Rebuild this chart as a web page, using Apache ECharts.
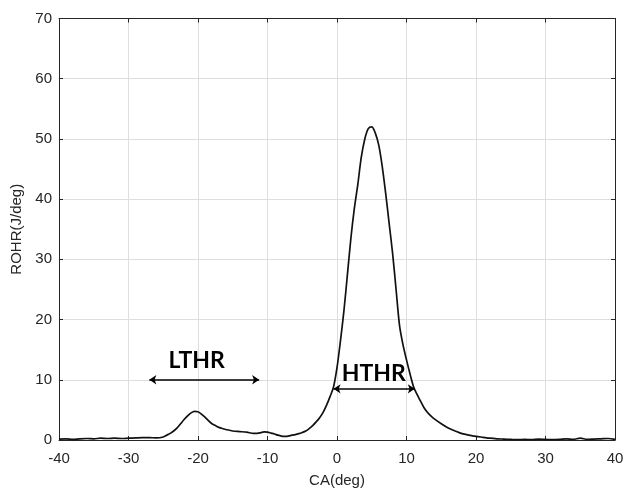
<!DOCTYPE html>
<html>
<head>
<meta charset="utf-8">
<script src="https://cdn.jsdelivr.net/npm/echarts@6/dist/echarts.min.js"></script>
<style>html,body{margin:0;padding:0;background:#fff;}#c{width:626px;height:489px;}</style>
</head>
<body>
<div id="c"></div>
<script>
// Crank angle (deg)
const ca = [-40,-39,-38,-37,-36,-35,-34,-33,-32,-31,-30,-29,-28,-27,-26,-25,-24.5,-24,-23.5,-23,-22.5,-22,-21.5,-21,-20.5,-20,-19.5,-19,-18.5,-18,-17.5,-17,-16.5,-16,-15,-14,-13,-12,-11.5,-11,-10.5,-10,-9.5,-9,-8.5,-8,-7.5,-7,-6.5,-6,-5.5,-5,-4.5,-4,-3.5,-3,-2.5,-2,-1.5,-1,-0.5,0,0.5,1,1.5,2,2.5,3,3.5,4,4.5,5,5.5,6,6.5,7,7.5,8,8.5,9,9.5,10,10.5,11,11.5,12,12.5,13,13.5,14,15,16,17,18,19,20,21,22,23,24,25,26,27,28,29,30,31,32,33,34,35,36,37,38,39,40];
// Rate of heat release (J/deg)
const rohr = [0.15,0.2,0.1,0.2,0.25,0.2,0.3,0.25,0.3,0.25,0.3,0.35,0.4,0.4,0.35,0.5,0.8,1.1,1.5,2.0,2.7,3.4,4.0,4.5,4.75,4.7,4.3,3.8,3.2,2.7,2.4,2.1,1.9,1.75,1.5,1.4,1.3,1.1,1.1,1.2,1.35,1.3,1.15,1.0,0.8,0.65,0.6,0.65,0.8,0.9,1.05,1.25,1.5,1.9,2.4,3.0,3.7,4.6,5.8,7.2,8.8,12,16.5,21.5,27.5,33.5,38.5,42.5,47,50,51.7,52,51,49,45.5,41,36,31,25,19,15.8,13.3,11,8.9,7.6,6.5,5.4,4.6,4.0,3.5,2.7,2.0,1.5,1.05,0.8,0.6,0.45,0.3,0.2,0.15,0.1,0.05,0.1,0.05,0.15,0.1,0.05,0.1,0.2,0.1,0.3,0.1,0.15,0.2,0.25,0.1];
// Axis ticks
const xTicks = [-40,-30,-20,-10,0,10,20,30,40];
const yTicks = [0,10,20,30,40,50,60,70];
// Annotations
const labels = ['LTHR','HTHR'];
const labelPos = [[-20.2,13.2],[5.3,11.1]];
const arrowLTHR = [[-27,10],[-11.2,10]];
const arrowHTHR = [[-0.5,8.5],[11.2,8.5]];

const chart = echarts.init(document.getElementById('c'));
const txt = '#262626';
const font = 'Liberation Sans, Arial, sans-serif';
const baseX = {
  type:'value', min:xTicks[0], max:xTicks[xTicks.length-1], interval:10,
  axisLine:{show:true,onZero:false,lineStyle:{color:txt,width:1}},
  axisTick:{show:true,inside:true,length:4,lineStyle:{color:txt}},
};
const baseY = {
  type:'value', min:yTicks[0], max:yTicks[yTicks.length-1], interval:10,
  axisLine:{show:true,onZero:false,lineStyle:{color:txt,width:1}},
  axisTick:{show:true,inside:true,length:4,lineStyle:{color:txt}},
};
chart.setOption({
  animation:false,
  backgroundColor:'#fff',
  grid:{left:59,right:11,top:18.5,bottom:49,containLabel:false,outerBoundsMode:'none'},
  xAxis:[
    Object.assign({}, baseX, {
      position:'bottom',
      name:'CA(deg)', nameLocation:'middle', nameGap:33,
      nameTextStyle:{color:txt,fontSize:15,fontFamily:font},
      axisLabel:{color:txt,fontSize:15,fontFamily:font,margin:11},
      splitLine:{show:true,lineStyle:{color:'#dedede',width:1}}
    }),
    Object.assign({}, baseX, {
      position:'top', axisLabel:{show:false}, splitLine:{show:false}
    })
  ],
  yAxis:[
    Object.assign({}, baseY, {
      position:'left',
      name:'ROHR(J/deg)', nameLocation:'middle', nameGap:31,
      nameTextStyle:{color:txt,fontSize:15,fontFamily:font},
      axisLabel:{color:txt,fontSize:15,fontFamily:font,margin:7},
      splitLine:{show:true,lineStyle:{color:'#dedede',width:1}}
    }),
    Object.assign({}, baseY, {
      position:'right', axisLabel:{show:false}, splitLine:{show:false}
    })
  ],
  series:[
    {
      type:'line', xAxisIndex:0, yAxisIndex:0,
      data: ca.map((x,i)=>[x,rohr[i]]),
      showSymbol:false, smooth:0.3,
      lineStyle:{color:'#111',width:1.7},
      markLine:{
        silent:true, symbol:['arrow','arrow'], symbolSize:[7,7],
        label:{show:false},
        lineStyle:{color:'#000',width:1.6,type:'solid'},
        data:[
          [{coord:arrowLTHR[0]},{coord:arrowLTHR[1]}],
          [{coord:arrowHTHR[0]},{coord:arrowHTHR[1]}]
        ]
      }
    },
    {
      type:'scatter', xAxisIndex:0, yAxisIndex:0, symbolSize:0,
      itemStyle:{opacity:1},
      data: labelPos.map((p,i)=>({value:p,name:labels[i]})),
      label:{show:true,position:'inside',formatter:p=>p.name,color:'#000',opacity:1,
        fontSize:23,fontWeight:'bold',fontFamily:'Lato, Open Sans, sans-serif'}
    }
  ]
});
</script>
</body>
</html>
